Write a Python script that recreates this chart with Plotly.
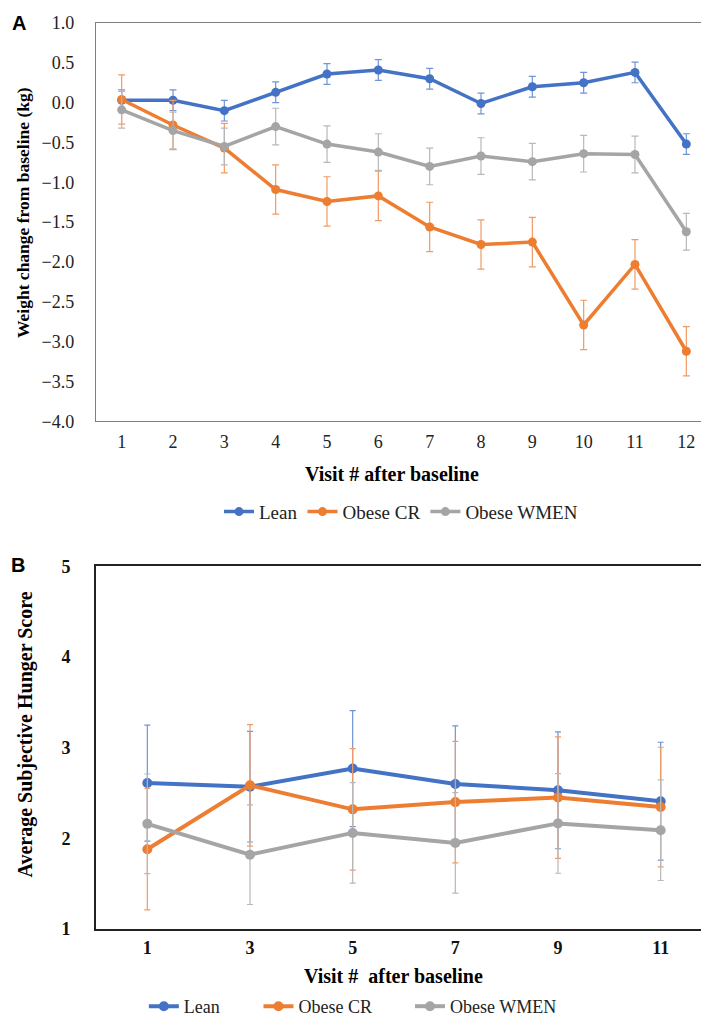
import plotly.graph_objects as go

# panel A: weight change from baseline (kg), visits 1-12
visits_a = list(range(1, 13))
lean_a = [0.03, 0.03, -0.10, 0.13, 0.36, 0.41, 0.30, -0.01, 0.20, 0.25, 0.38, -0.52]
lean_a_err = [0.13] * 12
cr_a = [0.04, -0.28, -0.57, -1.09, -1.24, -1.17, -1.56, -1.78, -1.75, -2.79, -2.03, -3.12]
cr_a_err = [0.31] * 12
wmen_a = [-0.09, -0.35, -0.55, -0.30, -0.52, -0.62, -0.80, -0.67, -0.74, -0.64, -0.65, -1.62]
wmen_a_err = [0.23] * 12

# panel B: average subjective hunger score, odd visits
visits_b = [1, 3, 5, 7, 9, 11]
lean_b = [2.61, 2.57, 2.77, 2.60, 2.53, 2.41]
lean_b_err = [0.64, 0.61, 0.64, 0.64, 0.645, 0.65]
cr_b = [1.88, 2.585, 2.32, 2.40, 2.45, 2.345]
cr_b_err = [0.67, 0.67, 0.67, 0.67, 0.67, 0.66]
wmen_b = [2.16, 1.82, 2.06, 1.95, 2.165, 2.09]
wmen_b_err = [0.55, 0.55, 0.555, 0.555, 0.55, 0.555]

names = ["Lean", "Obese CR", "Obese WMEN"]
colors = ["#4472C4", "#ED7D31", "#A5A5A5"]
err_colors = ["#6F94D8", "#F29A63", "#B8B8B8"]

W, H = 709, 1020
L, R, T, B = 88, 3, 15, 93
pw, ph = W - L - R, H - T - B


def px_x(x):
    return (x - L) / pw


def px_y(y):
    return (H - B - y) / ph


serif = "Liberation Serif"
fig = go.Figure()

for i, (y, e) in enumerate([(lean_a, lean_a_err), (cr_a, cr_a_err), (wmen_a, wmen_a_err)]):
    fig.add_trace(go.Scatter(
        x=visits_a, y=y, name=names[i], mode="lines+markers",
        line=dict(color=colors[i], width=3.5),
        marker=dict(color=colors[i], size=9),
        error_y=dict(type="data", array=e, color=err_colors[i], thickness=1.2, width=3.5),
        xaxis="x", yaxis="y", legend="legend",
    ))

# each panel B entry gets its own legend so the wide spacing can be matched
legend_b = ["legend2", "legend3", "legend4"]
for i, (y, e) in enumerate([(lean_b, lean_b_err), (cr_b, cr_b_err), (wmen_b, wmen_b_err)]):
    fig.add_trace(go.Scatter(
        x=visits_b, y=y, name=names[i], mode="lines+markers",
        line=dict(color=colors[i], width=4),
        marker=dict(color=colors[i], size=10),
        error_y=dict(type="data", array=e, color=err_colors[i], thickness=1.2, width=3),
        xaxis="x2", yaxis="y2", legend=legend_b[i],
    ))

tick_a = dict(family=serif, size=18, color="#222222")
tick_b = dict(family=serif, size=18, color="#111111", weight="bold")

fig.update_layout(
    width=W, height=H,
    margin=dict(l=L, r=R, t=T, b=B),
    paper_bgcolor="white", plot_bgcolor="white",
    font=dict(family=serif, size=16, color="#222222"),
    xaxis=dict(domain=[0, 1], anchor="y", range=[0.5, 12.5], tickvals=visits_a,
               showgrid=False, zeroline=False, showline=True, linecolor="#7F7F7F",
               linewidth=1.3, mirror=True, ticks="", ticklabelstandoff=4, tickfont=tick_a),
    yaxis=dict(domain=[px_y(416), 1], anchor="x", range=[-4, 1], dtick=0.5,
               tickformat=".1f", showgrid=False, zeroline=False, showline=True,
               linecolor="#7F7F7F", linewidth=1.3, mirror=True, ticks="",
               ticklabelstandoff=17, tickfont=tick_a),
    xaxis2=dict(domain=[0, 1], anchor="y2", range=[0, 12], tickvals=visits_b,
                showgrid=False, zeroline=False, showline=True, linecolor="#222222",
                linewidth=1.6, mirror=True, ticks="", ticklabelstandoff=2, tickfont=tick_b),
    yaxis2=dict(domain=[0, px_y(562)], anchor="x2", range=[1, 5], dtick=1,
                showgrid=False, zeroline=False, showline=True, linecolor="#222222",
                linewidth=1.6, mirror=True, ticks="", ticklabelstandoff=20, tickfont=tick_b),
    legend=dict(orientation="h", x=px_x(394), y=px_y(507), xanchor="center", yanchor="middle",
                font=dict(family=serif, size=19, color="#222222"), bgcolor="rgba(0,0,0,0)",
                itemwidth=30),
    showlegend=True,
)

for lg, start in zip(legend_b, [148, 263, 415]):
    fig.update_layout({lg: dict(orientation="h", x=px_x(start - 12), y=px_y(1005),
                                xanchor="left", yanchor="middle", itemwidth=30,
                                font=dict(family=serif, size=18, color="#222222"),
                                bgcolor="rgba(0,0,0,0)")})

annots = [
    dict(text="<b>A</b>", x=px_x(11), y=px_y(15), font=dict(family="Liberation Sans", size=20, color="black")),
    dict(text="<b>B</b>", x=px_x(10), y=px_y(561), font=dict(family="Liberation Sans", size=20, color="black")),
    dict(text="<b>Weight change from baseline (kg)</b>", x=px_x(15), y=px_y(206), textangle=-90,
         font=dict(family=serif, size=17.5, color="black")),
    dict(text="<b>Visit # after baseline</b>", x=px_x(385), y=px_y(469),
         font=dict(family=serif, size=20, color="black")),
    dict(text="<b>Average Subjective Hunger Score</b>", x=px_x(17), y=px_y(731), textangle=-90,
         font=dict(family=serif, size=20, color="black")),
    dict(text="<b>Visit #  after baseline</b>", x=px_x(386), y=px_y(974),
         font=dict(family=serif, size=20, color="black")),
]
for a in annots:
    fig.add_annotation(xref="paper", yref="paper", showarrow=False,
                       xanchor="center", yanchor="middle", **a)

fig.write_html("out.html")
